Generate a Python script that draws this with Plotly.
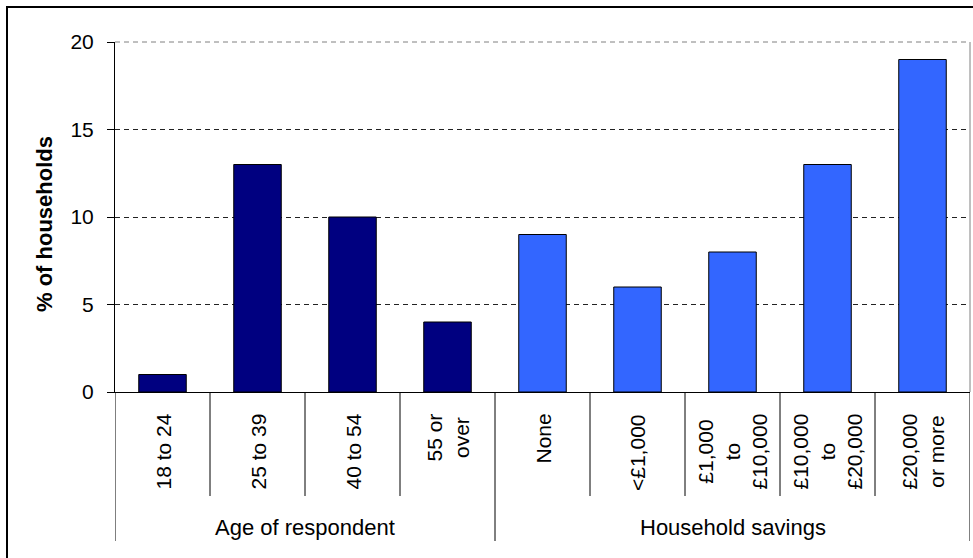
import plotly.graph_objects as go

groups = ["Age of respondent", "Household savings"]
age_labels = ["18 to 24", "25 to 39", "40 to 54", "55 or<br>over"]
age_values = [1, 13, 10, 4]
sav_labels = ["None", "<£1,000", "£1,000<br>to<br>£10,000", "£10,000<br>to<br>£20,000", "£20,000<br>or more"]
sav_values = [9, 6, 8, 13, 19]
y_ticks = [0, 5, 10, 15, 20]

FONT = "Liberation Sans, Arial, sans-serif"
W, H = 973, 558
L, R, T, B = 115, 3, 42, 166
plot_h = H - T - B
plot_w = W - L - R

n_age = len(age_labels)
n_sav = len(sav_labels)
x_age = list(range(n_age))
x_sav = list(range(n_age, n_age + n_sav))

fig = go.Figure()
fig.add_trace(go.Bar(x=x_age, y=age_values, width=0.5, marker=dict(color="#000080", line=dict(color="black", width=1)), showlegend=False))
fig.add_trace(go.Bar(x=x_sav, y=sav_values, width=0.5, marker=dict(color="#3366FF", line=dict(color="black", width=1)), showlegend=False))

def py(px):
    # pixel offset below the x axis -> paper coordinate
    return -px / plot_h

annotations = []
for xi, lab in zip(x_age + x_sav, age_labels + sav_labels):
    annotations.append(dict(x=xi, y=py(20), xref="x", yref="paper", text=lab, textangle=-90,
                            showarrow=False, xanchor="center", yanchor="top", align="center",
                            font=dict(family=FONT, size=21, color="black")))
group_spans = [(x_age[0], x_age[-1]), (x_sav[0], x_sav[-1])]
for g, (a, b) in zip(groups, group_spans):
    annotations.append(dict(x=(a + b) / 2, y=py(135), xref="x", yref="paper", text=g, showarrow=False,
                            xanchor="center", yanchor="middle", font=dict(family=FONT, size=22, color="black")))
annotations.append(dict(x=-(L - 44) / plot_w, y=(392 - 224) / plot_h, xref="paper", yref="paper",
                        text="<b>% of households</b>",
                        textangle=-90, showarrow=False, xanchor="center", yanchor="middle",
                        font=dict(family=FONT, size=22, color="black")))

shapes = []
n_total = n_age + n_sav
group_bounds = {-0.5, n_age - 0.5, n_total - 0.5}
for k in range(n_total + 1):
    xb = k - 0.5
    depth = 149 if xb in group_bounds else 104
    shapes.append(dict(type="line", xref="x", yref="paper", x0=xb, x1=xb, y0=0, y1=py(depth),
                       line=dict(color="black", width=1)))
# plot area right border and top border
shapes.append(dict(type="line", xref="paper", yref="paper", x0=1, x1=1, y0=0, y1=1, line=dict(color="#808080", width=1)))
shapes.append(dict(type="line", xref="paper", yref="paper", x0=0, x1=1, y0=1, y1=1,
                   line=dict(color="#808080", width=1, dash="5px,4px")))
# outer chart border
shapes.append(dict(type="rect", xref="paper", yref="paper", x0=-(L - 7) / plot_w, x1=1.02,
                   y0=py(H - plot_h - T + 10), y1=1 + (T - 7) / plot_h, line=dict(color="black", width=2)))

fig.update_layout(
    width=W, height=H,
    margin=dict(l=L, r=R, t=T, b=B),
    paper_bgcolor="white", plot_bgcolor="white",
    bargap=0.5,
    annotations=annotations, shapes=shapes,
    font=dict(family=FONT, size=21, color="black"),
)
fig.update_xaxes(range=[-0.5, n_total - 0.5], showticklabels=False, showgrid=False, zeroline=False,
                 showline=True, linecolor="black", linewidth=1, ticks="")
fig.update_yaxes(range=[0, 20], tickvals=y_ticks, showgrid=True, gridcolor="#222222", griddash="5px,4px",
                 gridwidth=1, zeroline=False, showline=True, linecolor="black", linewidth=1,
                 ticks="outside", ticklen=7, tickcolor="black", ticklabelstandoff=9,
                 tickfont=dict(family=FONT, size=21, color="black"))

fig.write_html("out.html", config={"displayModeBar": False},
               post_script="document.body.style.margin='0';document.body.style.padding='0';")
